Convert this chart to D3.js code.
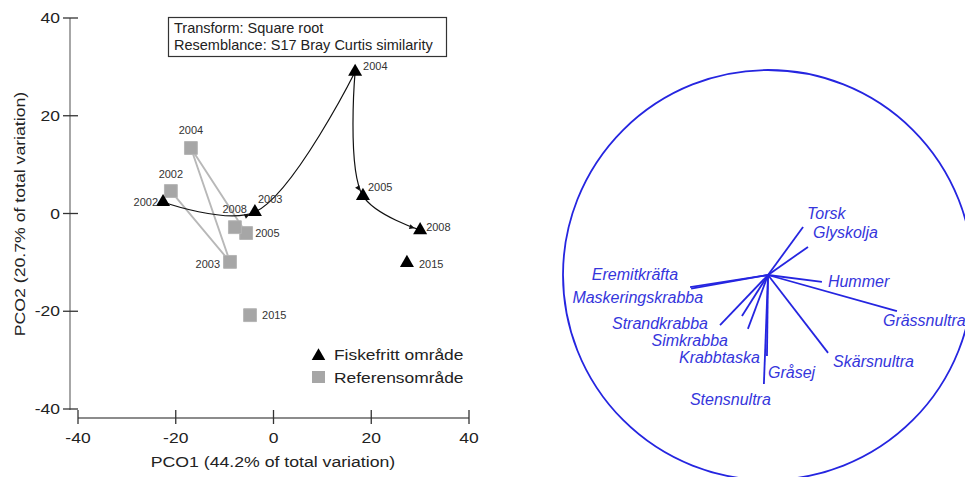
<!DOCTYPE html>
<html>
<head>
<meta charset="utf-8">
<script src="https://cdn.jsdelivr.net/npm/d3@7"></script>
<style>
  body { margin: 0; background: #fff; }
  svg { display: block; font-family: "Liberation Sans", Arial, sans-serif; }
</style>
</head>
<body>
<script>
// PCO scores, Fiskefritt område (triangles) and Referensområde (squares)
var fiskYears = ["2002", "2003", "2004", "2005", "2008", "2015"];
var fiskX = [-22.6, -3.8, 16.7, 18.3, 30.0, 27.3];
var fiskY = [2.35, 0.3, 29.0, 3.6, -3.4, -10.1];

var refYears = ["2002", "2003", "2004", "2005", "2008", "2015"];
var refX = [-21.0, -8.9, -16.9, -5.6, -7.9, -4.8];
var refY = [4.6, -9.9, 13.4, -4.0, -2.8, -20.8];

// years joined by trajectory lines
var pathYears = ["2002", "2003", "2004", "2005", "2008"];
// the black curve turns sharply at this year
var cuspYear = "2004";

var axisTicks = [-40, -20, 0, 20, 40];

// species vectors (correlation circle)
var species = ["Torsk", "Glyskolja", "Hummer", "Grässnultra", "Skärsnultra", "Gråsej",
  "Stensnultra", "Krabbtaska", "Simkrabba", "Strandkrabba", "Maskeringskrabba", "Eremitkräfta"];
var vecX = [0.171, 0.195, 0.263, 0.629, 0.293, -0.005, -0.020, -0.098, -0.127, -0.234, -0.375, -0.380];
var vecY = [0.234, 0.137, -0.034, -0.176, -0.380, -0.395, -0.532, -0.263, -0.200, -0.244, -0.066, -0.059];

// label placement (layout only)
var fiskLab = [[-5, 4, "end"], [3, -9, "start"], [8, -2, "start"], [5, -5, "start"], [6, 1, "start"], [12, 5, "start"]];
var refLab = [[0, -13, "middle"], [-10, 6, "end"], [0, -14, "middle"], [9, 4, "start"], [12, -14, "end"], [12, 4, "start"]];
var specLab = [[4, -8, "start"], [5, -9, "start"], [6, 5, "start"], [-14, 15, "start"], [5, 14, "start"],
  [1, 22, "start"], [-74, 21, "start"], [12, 34, "end"], [-14, 30, "end"], [-12, 4, "end"],
  [12, 14, "end"], [-12, -7, "end"]];

var width = 965, height = 477;

var svg = d3.select("body").append("svg")
  .attr("width", width)
  .attr("height", height);

var x = d3.scaleLinear().domain([-40, 40]).range([78, 469]);
var y = d3.scaleLinear().domain([-40, 40]).range([409, 18]);

// stretched text helper (the original panel is a bit wider than tall)
function stext(g, px, py, str, size, sx, anchor, fill) {
  return g.append("text")
    .attr("transform", "translate(" + px + "," + py + ") scale(" + sx + ",1)")
    .attr("text-anchor", anchor || "start")
    .attr("font-size", size)
    .attr("fill", fill || "#222")
    .text(str);
}

var left = svg.append("g");

// y axis
left.append("line")
  .attr("x1", 70).attr("x2", 70)
  .attr("y1", y(40)).attr("y2", y(-40) + 1)
  .attr("stroke", "#777").attr("stroke-width", 1.3);
axisTicks.forEach(function(t) {
  left.append("line")
    .attr("x1", 63).attr("x2", 78)
    .attr("y1", y(t)).attr("y2", y(t))
    .attr("stroke", "#333").attr("stroke-width", 1.3);
  stext(left, 60, y(t) + 5, t, 14, 1.25, "end");
});

// x axis
left.append("line")
  .attr("x1", x(-40)).attr("x2", x(40))
  .attr("y1", 418).attr("y2", 418)
  .attr("stroke", "#666").attr("stroke-width", 1.3);
axisTicks.forEach(function(t) {
  left.append("line")
    .attr("x1", x(t)).attr("x2", x(t))
    .attr("y1", 410).attr("y2", 424)
    .attr("stroke", "#333").attr("stroke-width", 1.3);
  stext(left, x(t), 443, t, 14, 1.25, "middle");
});

stext(left, 273, 467, "PCO1 (44.2% of total variation)", 15.5, 1.14, "middle");
left.append("text")
  .attr("transform", "translate(25,214) rotate(-90) scale(1.14,1)")
  .attr("text-anchor", "middle")
  .attr("font-size", 15.5)
  .attr("fill", "#222")
  .text("PCO2 (20.7% of total variation)");

// info box
left.append("rect")
  .attr("x", 168.5).attr("y", 17.5)
  .attr("width", 278).attr("height", 39)
  .attr("fill", "#fff").attr("stroke", "#333").attr("stroke-width", 1.2);
left.append("text").attr("x", 174).attr("y", 33).attr("font-size", 14.5).attr("fill", "#222")
  .text("Transform: Square root");
left.append("text").attr("x", 174).attr("y", 50).attr("font-size", 14.5).attr("fill", "#222")
  .text("Resemblance: S17 Bray Curtis similarity");

// grey trajectory for the reference area
var refPts = pathYears.map(function(yr) {
  var i = refYears.indexOf(yr);
  return [x(refX[i]), y(refY[i])];
});
left.append("path")
  .attr("d", d3.line()(refPts))
  .attr("fill", "none")
  .attr("stroke", "#b8b8b8")
  .attr("stroke-width", 1.9);

// black curved trajectory, in two smooth pieces split at the cusp
svg.append("defs").append("marker")
  .attr("id", "arr")
  .attr("viewBox", "0 0 10 10")
  .attr("refX", 22).attr("refY", 5)
  .attr("markerWidth", 5).attr("markerHeight", 5)
  .attr("markerUnits", "userSpaceOnUse")
  .attr("orient", "auto")
  .style("overflow", "visible")
  .append("path")
  .attr("d", "M0,0 L10,5 L0,10 z")
  .attr("fill", "#111");

var fiskPts = pathYears.map(function(yr) {
  var i = fiskYears.indexOf(yr);
  return [x(fiskX[i]), y(fiskY[i])];
});
var cut = pathYears.indexOf(cuspYear);
var pieces = [fiskPts.slice(0, cut + 1), fiskPts.slice(cut)];
var curve = d3.line().curve(d3.curveCatmullRom.alpha(0.5));
pieces.forEach(function(p, k) {
  left.append("path")
    .attr("d", curve(p))
    .attr("fill", "none")
    .attr("stroke", "#111")
    .attr("stroke-width", 1.2)
    .attr("marker-mid", "url(#arr)")
    .attr("marker-end", k === pieces.length - 1 ? "url(#arr)" : null);
});

// reference squares
refYears.forEach(function(yr, i) {
  left.append("path")
    .attr("transform", "translate(" + x(refX[i]) + "," + y(refY[i]) + ")")
    .attr("d", d3.symbol().type(d3.symbolSquare).size(165)())
    .attr("fill", "#a6a6a6")
    .attr("stroke", "#b5b5b5")
    .attr("stroke-width", 1);
  stext(left, x(refX[i]) + refLab[i][0], y(refY[i]) + refLab[i][1], yr, 10, 1.1, refLab[i][2], "#333");
});

// fiskefritt triangles
fiskYears.forEach(function(yr, i) {
  left.append("path")
    .attr("transform", "translate(" + x(fiskX[i]) + "," + y(fiskY[i]) + ")")
    .attr("d", d3.symbol().type(d3.symbolTriangle).size(85)())
    .attr("fill", "#000");
  stext(left, x(fiskX[i]) + fiskLab[i][0], y(fiskY[i]) + fiskLab[i][1], yr, 10, 1.1, fiskLab[i][2], "#333");
});

// legend
left.append("path")
  .attr("transform", "translate(318.5,356)")
  .attr("d", d3.symbol().type(d3.symbolTriangle).size(80)())
  .attr("fill", "#000");
stext(left, 334, 360, "Fiskefritt område", 14.5, 1.2, "start");
left.append("rect")
  .attr("x", 312).attr("y", 371).attr("width", 13).attr("height", 12)
  .attr("fill", "#a6a6a6");
stext(left, 334, 383, "Referensområde", 14.5, 1.2, "start");

// right panel: vector plot
var blue = "#2525e0";
var cx = d3.scaleLinear().domain([-1, 1]).range([563, 973]);
var cy = d3.scaleLinear().domain([-1, 1]).range([480, 70]);

var right = svg.append("g");
right.append("ellipse")
  .attr("cx", cx(0)).attr("cy", cy(0))
  .attr("rx", cx(1) - cx(0)).attr("ry", cy(-1) - cy(0))
  .attr("fill", "none")
  .attr("stroke", blue)
  .attr("stroke-width", 1.8);

species.forEach(function(s, i) {
  right.append("line")
    .attr("x1", cx(0)).attr("y1", cy(0))
    .attr("x2", cx(vecX[i])).attr("y2", cy(vecY[i]))
    .attr("stroke", blue)
    .attr("stroke-width", 1.8);
  right.append("text")
    .attr("x", cx(vecX[i]) + specLab[i][0])
    .attr("y", cy(vecY[i]) + specLab[i][1])
    .attr("text-anchor", specLab[i][2])
    .attr("font-size", 16)
    .attr("font-style", "italic")
    .attr("fill", "#3535dc")
    .text(s);
});
</script>
</body>
</html>
